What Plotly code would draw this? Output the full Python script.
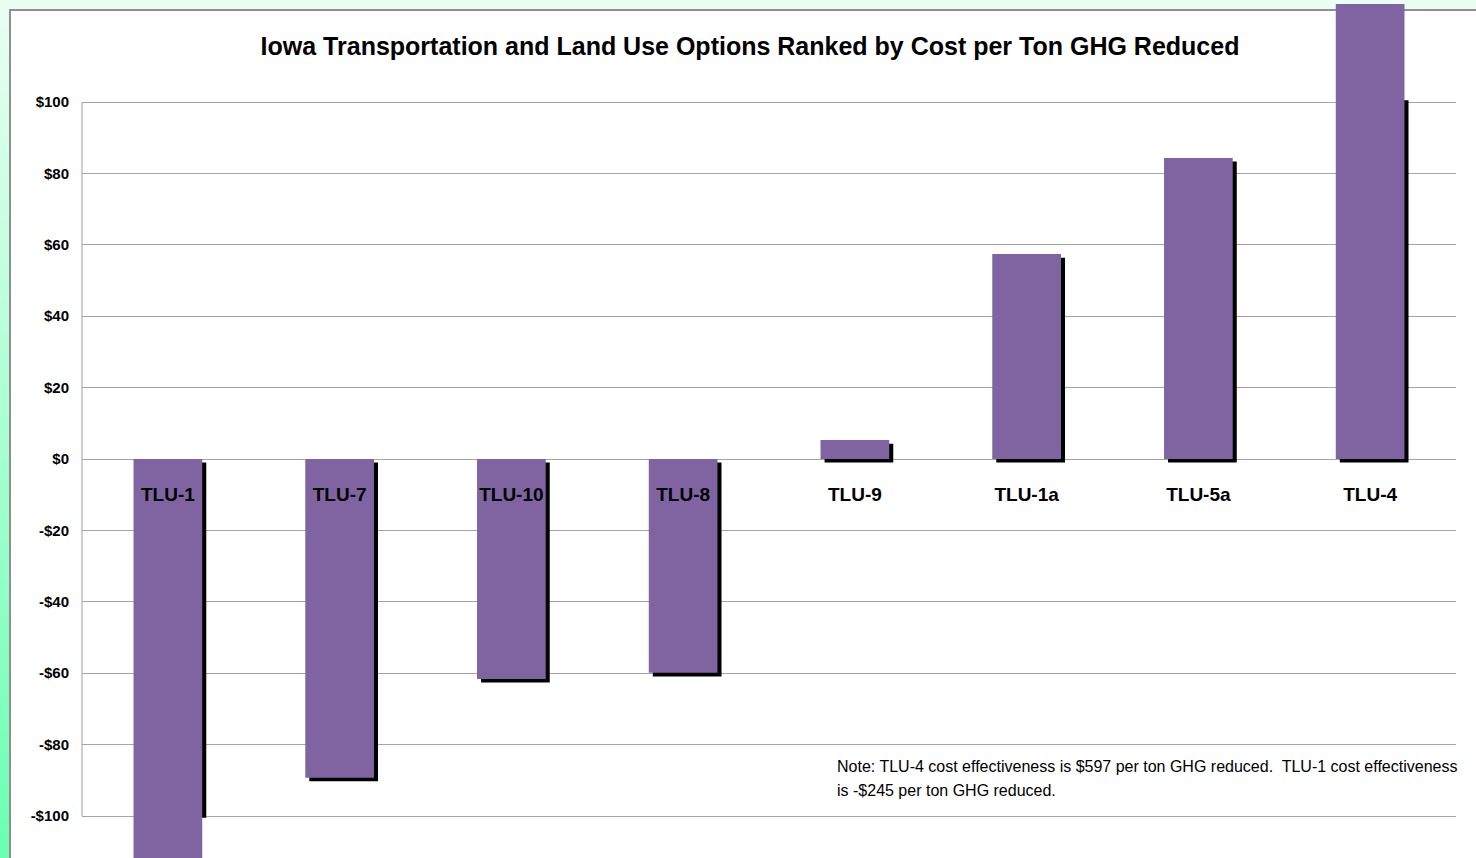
import numpy as np
import plotly.graph_objects as go

categories = ["TLU-1", "TLU-7", "TLU-10", "TLU-8", "TLU-9", "TLU-1a", "TLU-5a", "TLU-4"]
cost_per_ton = [-245, -89.3, -61.6, -59.9, 5.3, 57.4, 84.3, 597]
tick_values = [-100, -80, -60, -40, -20, 0, 20, 40, 60, 80, 100]
tick_labels = ["-$100", "-$80", "-$60", "-$40", "-$20", "$0", "$20", "$40", "$60", "$80", "$100"]
title_text = "Iowa Transportation and Land Use Options Ranked by Cost per Ton GHG Reduced"
note_line1 = "Note: TLU-4 cost effectiveness is $597 per ton GHG reduced.  TLU-1 cost effectiveness"
note_line2 = "is -$245 per ton GHG reduced."

W, H = 1476, 858
ML, MR, MT, MB = 82, 20, 4, 0
PW, PH = W - ML - MR, H - MT - MB
FONT = "Liberation Sans, Arial, sans-serif"
BAR = "#8064A2"

def px2x(px):
    return (px - ML) / PW

def py2y(py):
    return (H - MB - py) / PH

vals = np.array(cost_per_ton, dtype=float)
shadow_vals = np.clip(vals, -99.5, 101.5)

fig = go.Figure()
fig.add_trace(go.Bar(x=categories, y=shadow_vals, base=-1.0, width=0.4, offset=-0.2 + 0.0235,
                     marker=dict(color="black", line=dict(width=0)), hoverinfo="skip", showlegend=False))
fig.add_trace(go.Bar(x=categories, y=vals, width=0.4, offset=-0.2,
                     marker=dict(color=BAR, line=dict(width=0)), showlegend=False))

# background gradient strip on left edge
top_c = np.array([234, 255, 243])
bot_c = np.array([106, 255, 178])
n = 86
for i in range(n):
    t = (i + 0.5) / n
    c = top_c + (bot_c - top_c) * t
    fig.add_shape(type="rect", xref="paper", yref="paper",
                  x0=px2x(0), x1=px2x(10), y0=py2y(i * 10), y1=py2y((i + 1) * 10 + 1),
                  fillcolor="rgb(%d,%d,%d)" % tuple(c.astype(int)), line=dict(width=0), layer="below")
# chart box
fig.add_shape(type="rect", xref="paper", yref="paper",
              x0=px2x(10), x1=px2x(W + 20), y0=py2y(10), y1=py2y(H + 20),
              fillcolor="white", line=dict(color="#8f8f8f", width=2), layer="below")
# value axis line
fig.add_shape(type="line", xref="paper", yref="y", x0=0, x1=0, y0=-100, y1=100,
              line=dict(color="#a0a0a0", width=1), layer="below")

fig.add_annotation(x=px2x(835), y=py2y(766), xref="paper", yref="paper", text=note_line1,
                   showarrow=False, xanchor="left", yanchor="middle",
                   font=dict(family=FONT, size=16, color="black"))
fig.add_annotation(x=px2x(835), y=py2y(790), xref="paper", yref="paper", text=note_line2,
                   showarrow=False, xanchor="left", yanchor="middle",
                   font=dict(family=FONT, size=16, color="black"))

fig.update_layout(
    width=W, height=H,
    margin=dict(l=ML, r=MR, t=MT, b=MB, pad=0),
    paper_bgcolor="rgb(234,255,243)",
    plot_bgcolor="rgba(0,0,0,0)",
    barmode="overlay",
    bargap=0.6,
    title=dict(text="<b>" + title_text + "</b>", x=750 / W, xanchor="center", y=1 - 46 / H, yanchor="middle",
               font=dict(family=FONT, size=25, color="black")),
    xaxis=dict(anchor="free", position=py2y(459), showline=False, showgrid=False, zeroline=False,
               ticks="", ticklabelstandoff=22, tickfont=dict(family=FONT, size=19, color="black", weight="bold"),
               range=[-0.5, len(categories) - 0.5]),
    yaxis=dict(range=[(459 - (H - MB)) / 3.57, (459 - MT) / 3.57], tickvals=tick_values, ticktext=tick_labels,
               showgrid=True, gridcolor="#a4a4a4", gridwidth=1, zeroline=False, showline=False, ticks="",
               ticklabelstandoff=12, tickfont=dict(family=FONT, size=15, color="black", weight="bold")),
)

fig.write_html("out.html", config={"displayModeBar": False},
               post_script="document.body.style.margin='0';document.body.style.overflow='hidden';")
